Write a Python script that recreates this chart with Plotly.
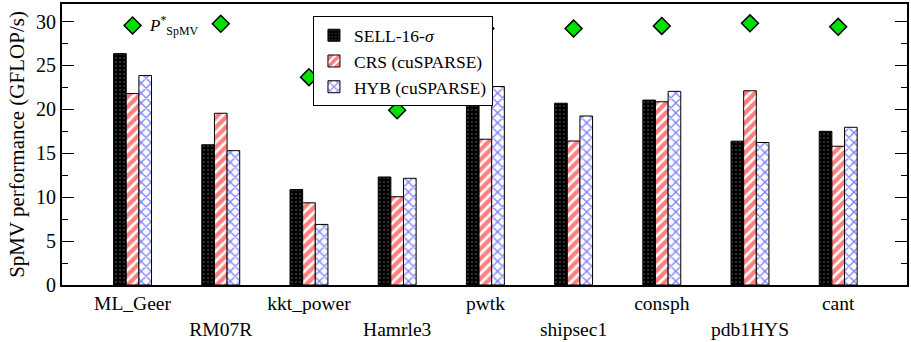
import plotly.graph_objects as go

matrices = ["ML_Geer", "RM07R", "kkt_power", "Hamrle3", "pwtk",
            "shipsec1", "consph", "pdb1HYS", "cant"]
sell = [26.35, 15.97, 10.87, 12.3, 21.55, 20.7, 21.06, 16.38, 17.5]
crs = [21.8, 19.56, 9.36, 10.05, 16.6, 16.4, 20.87, 22.12, 15.8]
hyb = [23.85, 15.3, 6.9, 12.15, 22.6, 19.25, 22.05, 16.23, 17.96]
p_spmv = [29.55, 29.75, 23.67, 19.9, 29.2, 29.2, 29.5, 29.8, 29.4]

# staggered category labels: every other one drops to a second line
tick_text = [m if i % 2 == 0 else "<br>" + m for i, m in enumerate(matrices)]
xs = list(range(len(matrices)))

FONT = "Liberation Serif"


def f(size):
    return dict(family=FONT, size=size, color="black")


fig = go.Figure()
fig.add_trace(go.Bar(
    x=xs, y=sell, name="SELL-16-<i>σ</i>",
    marker=dict(color="black", line=dict(color="black", width=1),
                pattern=dict(shape=".", fgcolor="#7a7a7a", bgcolor="black",
                             size=4, solidity=0.2)),
))
fig.add_trace(go.Bar(
    x=xs, y=crs, name="CRS (cuSPARSE)",
    marker=dict(color="white", line=dict(color="black", width=1),
                pattern=dict(shape="/", fgcolor="#ff0000", bgcolor="white",
                             size=7, solidity=0.62)),
))
fig.add_trace(go.Bar(
    x=xs, y=hyb, name="HYB (cuSPARSE)",
    marker=dict(color="white", line=dict(color="black", width=1),
                pattern=dict(shape="x", fgcolor="#0000ff", bgcolor="white",
                             size=7, solidity=0.35)),
))
fig.add_trace(go.Scatter(
    x=xs, y=p_spmv, mode="markers", showlegend=False,
    marker=dict(symbol="diamond", size=13, color="#00e000",
                line=dict(color="black", width=1.5)),
))

fig.add_annotation(x=0.16, y=29.6, xref="x", yref="y", xanchor="left",
                   text="<i>P</i><sup>*</sup><sub>SpMV</sub>",
                   showarrow=False, font=f(17))

fig.update_layout(
    width=911, height=342,
    margin=dict(l=62, r=2, t=3, b=56),
    paper_bgcolor="white", plot_bgcolor="white",
    barmode="group", bargap=0.57, bargroupgap=0,
    font=f(18),
    legend=dict(x=0.297, y=0.956, xanchor="left", yanchor="top",
                bordercolor="black", borderwidth=1, bgcolor="white",
                font=f(17.5), itemwidth=30, tracegroupgap=0),
    xaxis=dict(range=[-0.8, 8.78], tickmode="array", tickvals=xs,
               ticktext=tick_text, ticks="", showgrid=False,
               showline=True, linecolor="black", linewidth=2, mirror=True,
               tickfont=f(19.5)),
    yaxis=dict(range=[0, 32], dtick=5, ticks="inside", ticklen=12,
               tickwidth=1, tickcolor="black", showgrid=False,
               showline=True, linecolor="black", linewidth=2, mirror="ticks",
               minor=dict(dtick=2.5, ticks="inside", ticklen=6,
                          tickcolor="black", tickwidth=1),
               title=dict(text="SpMV performance (GFLOP/s)", standoff=6,
                          font=f(21)),
               tickfont=f(20), zeroline=False),
)

fig.write_html("out.html")
